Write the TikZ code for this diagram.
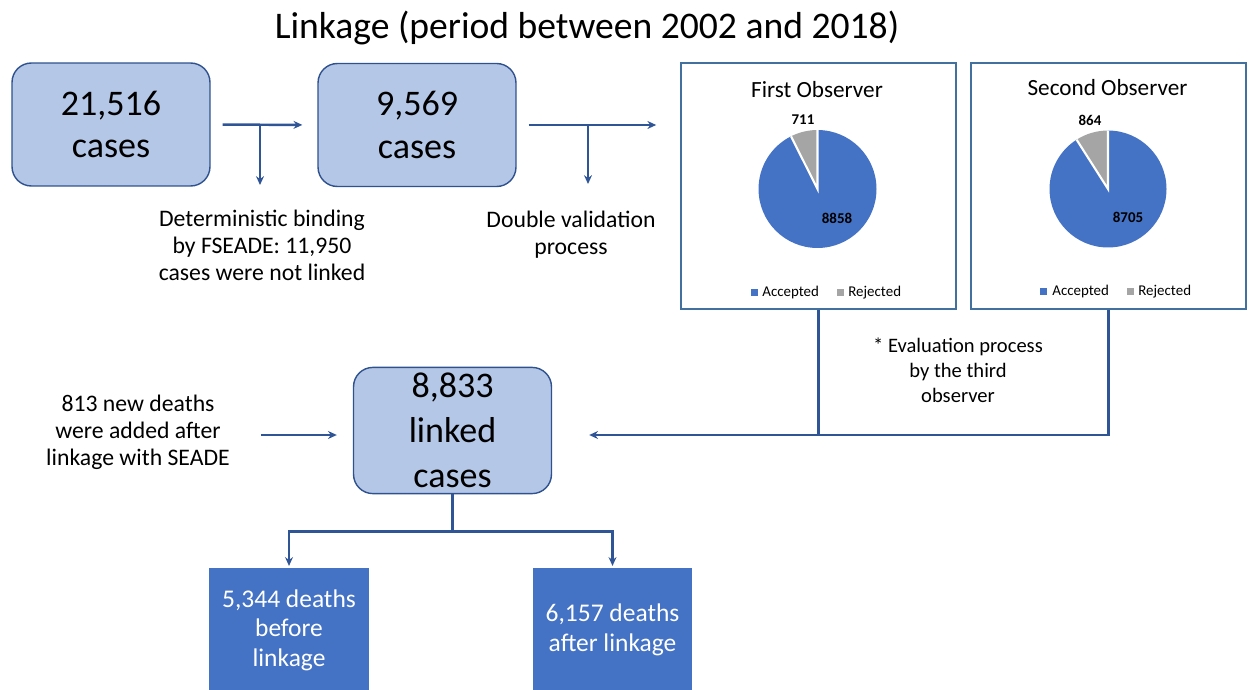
\documentclass[tikz,border=0pt]{standalone}
\usepackage{fontspec}
\setmainfont{Carlito}
\usetikzlibrary{arrows.meta,positioning,calc}
\definecolor{boxfill}{HTML}{B4C7E7}
\definecolor{boxline}{HTML}{2F528F}
\definecolor{arrowblue}{HTML}{2F5597}
\definecolor{pieblue}{HTML}{4472C4}
\definecolor{piegray}{HTML}{A5A5A5}
\definecolor{panelline}{HTML}{41719C}

\begin{document}
\begin{tikzpicture}[
  x=0.02cm, y=-0.02cm,
  cnt/.style={draw=boxline,fill=boxfill,line width=0.8pt,rounded corners=11pt,
    minimum width=3.96cm,minimum height=2.46cm,align=center,
    font=\fontsize{20.5}{24}\selectfont},
  dth/.style={fill=pieblue,text=white,minimum width=3.2cm,minimum height=2.48cm,
    align=center,font=\fontsize{14.5}{16.7}\selectfont},
  panel/.style={draw=panelline,line width=0.9pt,minimum width=5.5cm,minimum height=4.92cm},
  note/.style={align=center,font=\fontsize{13.5}{15.3}\selectfont},
  ptitle/.style={font=\fontsize{13.2}{15}\selectfont},
  plab/.style={font=\fontsize{8.5}{10}\bfseries\selectfont,inner sep=0pt},
  leg/.style={font=\fontsize{8.5}{10}\selectfont,anchor=west,inner sep=0pt},
  ln/.style={line width=1.4pt,draw=arrowblue},
  arr/.style={ln,-{Stealth[length=5pt,width=4.5pt]}},
]
  \useasboundingbox (0,0) rectangle (1253,689);

  \node[font=\fontsize{21.4}{25}\selectfont] (ttl) at (587,28) {Linkage (period between 2002 and 2018)};

  \node[cnt] (c1) at (111,124.5) {21,516\\cases};
  \node[cnt] (c2) at (417,125) {9,569\\cases};
  \node[panel] (o1) at (818.5,186) {};
  \node[panel] (o2) at (1108.5,186) {};

  \node[note] (n1) at (262,245) {Deterministic binding\\by FSEADE: 11,950\\cases were not linked};
  \node[note] (n2) at (571,235) {Double validation\\process};

  \draw[arr,shorten <=0.24cm,shorten >=0.3cm] (c1.east) -- (c2.west);
  \coordinate (b1) at (260,125);
  \coordinate (b1e) at (260,185);
  \draw[arr] (b1) -- (b1e);
  \draw[arr,shorten <=0.24cm,shorten >=0.48cm] (c2.east) -- (c2.east -| o1.west);
  \coordinate (b2) at (588,125);
  \coordinate (b2e) at (588,184);
  \draw[arr] (b2) -- (b2e);

  \node[ptitle] (t1) at (817,90) {First Observer};
  \begin{scope}[shift={(817.5,189)},x=1cm,y=1cm]
    \fill[pieblue] (0,0) -- (90:1.18) arc[start angle=90,end angle=-243.3,radius=1.18] -- cycle;
    \fill[piegray] (0,0) -- (90:1.18) arc[start angle=90,end angle=116.7,radius=1.18] -- cycle;
    \draw[white,line width=1.2pt] (116.7:1.18) -- (0,0) -- (90:1.18);
  \end{scope}
  \node[plab] (p1a) at (803,120) {711};
  \node[plab] (p1b) at (837,218) {8858};
  \fill[pieblue] (751,289) rectangle (758,296);
  \node[leg] (l1a) at (762,293) {Accepted};
  \fill[piegray] (837,289) rectangle (844,296);
  \node[leg] (l1b) at (848,293) {Rejected};

  \node[ptitle] (t2) at (1107.5,88) {Second Observer};
  \begin{scope}[shift={(1108,189)},x=1cm,y=1cm]
    \fill[pieblue] (0,0) -- (90:1.17) arc[start angle=90,end angle=-237.5,radius=1.17] -- cycle;
    \fill[piegray] (0,0) -- (90:1.17) arc[start angle=90,end angle=122.5,radius=1.17] -- cycle;
    \draw[white,line width=1.2pt] (122.5:1.17) -- (0,0) -- (90:1.17);
  \end{scope}
  \node[plab] (p2a) at (1090,120) {864};
  \node[plab] (p2b) at (1128,217) {8705};
  \fill[pieblue] (1040,288) rectangle (1047,295);
  \node[leg] (l2a) at (1052,292) {Accepted};
  \fill[piegray] (1127,288) rectangle (1134,295);
  \node[leg] (l2b) at (1138,292) {Rejected};

  \node[note,font=\fontsize{11.7}{14.2}\selectfont] (n4) at (958,370) {* Evaluation process\\by the third\\observer};

  \node[cnt,font=\fontsize{20.5}{25.5}\selectfont] (c3) at (452.5,430.5) {8,833\\linked\\cases};
  \node[note] (n3) at (138,432) {813 new deaths\\were added after\\linkage with SEADE};

  \coordinate (mrg) at ([shift={(37,4.5)}]c3.east);
  \draw[arr] (o2.south) |- (mrg);
  \draw[ln] (o1.south) -- (o1.south |- mrg);
  \draw[arr] ([shift={(-92,4.5)}]c3.west) -- ([shift={(-16,4.5)}]c3.west);

  \node[dth] (d1) at (289,630) {5,344 deaths\\before\\linkage};
  \node[dth] (d2) at (612.5,630) {6,157 deaths\\after linkage};

  \draw[ln] (c3.south) -- ++(0,37) coordinate (split);
  \draw[arr,shorten >=1pt] (split) -| (d1.north);
  \draw[arr,shorten >=1pt] (split) -| (d2.north);
\end{tikzpicture}
\end{document}
